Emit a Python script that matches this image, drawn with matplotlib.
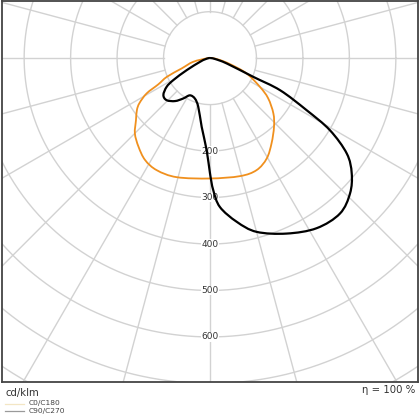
import numpy as np
import matplotlib
matplotlib.use("Agg")
import matplotlib.pyplot as plt
from matplotlib.lines import Line2D
from matplotlib.path import Path
from matplotlib.patches import PathPatch

# ---- data (angle from nadir in degrees, positive = right side; intensity cd/klm)
c0_angles = [-180, -90, -77.7, -70, -66.6, -63.1, -60.9, -57.5, -54.6, -50.0, -44.9, -38.9,
             -32.5, -25.4, -15.6, 0, 14.3, 22.6, 29.5, 35.9, 43.0, 48.9, 55.4, 60.1,
             67.4, 73.3, 80, 90, 180]
c0_values = [0, 5, 37, 65, 101, 125, 156, 180, 193, 208, 229, 245,
             260, 267, 266, 259, 262, 261, 248, 226, 202, 181, 152, 124,
             85, 45, 20, 5, 0]

c90_angles = [-180, -90, -76, -69.7, -62.8, -59.1, -56.5, -51.6, -45.9, -39.1, -33.5,
              -28.4, -20.4, -13.5, -6.9, -2.1, 0, 1.4, 3.8, 9.3, 15.0, 23.6, 32.1,
              39.9, 46.0, 50.9, 55.1, 59.0, 61.7, 65.4, 66.6, 72.4, 80, 90, 180]
c90_values = [0, 3, 12, 23, 56, 92, 112, 128, 130, 119, 104,
              91, 93, 108, 149, 198, 248, 284, 321, 357, 387, 412, 432,
              436, 419, 393, 359, 301, 236, 166, 102, 38, 12, 3, 0]

ring_values = [100, 200, 300, 400, 500, 600, 700, 800, 900]
ring_labels = ["200", "300", "400", "500", "600"]
unit_text = "cd/klm"
eta_text = "η = 100 %"
legend_labels = ["C0/C180", "C90/C270"]

# ---- figure
fig = plt.figure(figsize=(4.2, 4.2), dpi=100)
ax = fig.add_axes([2 / 420, 38 / 420, 416 / 420, 381 / 420])
ax.set_xlim(-447, 447)
ax.set_ylim(-697, 123)
ax.set_aspect("equal", adjustable="box")
ax.set_xticks([])
ax.set_yticks([])
for s in ax.spines.values():
    s.set_color("#444444")
    s.set_linewidth(1.3)

grid_col = "#d2d2d2"
t = np.linspace(0, 2 * np.pi, 721)
for rv in ring_values:
    ax.plot(rv * np.cos(t), rv * np.sin(t), color=grid_col, lw=1.0, zorder=1)
for a in np.arange(0, 360, 15):
    ar = np.deg2rad(a)
    ax.plot([100 * np.sin(ar), 1200 * np.sin(ar)], [-100 * np.cos(ar), -1200 * np.cos(ar)],
            color=grid_col, lw=1.0, zorder=1)

for lab in ring_labels:
    ax.text(0, -float(lab), lab, ha="center", va="center", fontsize=6.5, color="#333333",
            zorder=2, bbox=dict(facecolor="white", edgecolor="none", pad=0.2))


def to_xy(angles, values):
    a = np.deg2rad(np.asarray(angles, float))
    v = np.asarray(values, float)
    return np.column_stack([v * np.sin(a), -v * np.cos(a)])


def smooth_path(pts):
    # Catmull-Rom through the points, drawn as cubic Bezier segments
    n = len(pts)
    verts = [pts[0]]
    codes = [Path.MOVETO]
    for i in range(n - 1):
        p0 = pts[i - 1] if i > 0 else pts[i]
        p1 = pts[i]
        p2 = pts[i + 1]
        p3 = pts[i + 2] if i + 2 < n else pts[i + 1]
        verts += [p1 + (p2 - p0) / 6.0, p2 - (p3 - p1) / 6.0, p2]
        codes += [Path.CURVE4] * 3
    return Path(np.array(verts), codes)


ax.add_patch(PathPatch(smooth_path(to_xy(c0_angles, c0_values)), fill=False,
                       edgecolor="#f0901e", lw=1.3, zorder=3, joinstyle="round"))
ax.add_patch(PathPatch(smooth_path(to_xy(c90_angles, c90_values)), fill=False,
                       edgecolor="black", lw=1.6, zorder=4, joinstyle="round"))

# ---- texts below axes
fig.text(5 / 420, 1 - 393 / 420, unit_text, ha="left", va="center", fontsize=7.3, color="#333333")
fig.text(415 / 420, 1 - 390 / 420, eta_text, ha="right", va="center", fontsize=7.3, color="#333333")

leg_cols = ["#f3e6c4", "#9a9a9a"]
for i, (lab, col) in enumerate(zip(legend_labels, leg_cols)):
    yy = 1 - (403.5 + 7.5 * i) / 420
    fig.add_artist(Line2D([5 / 420, 24 / 420], [yy, yy], color=col, lw=0.9,
                          transform=fig.transFigure))
    fig.text(29 / 420, yy, lab, ha="left", va="center", fontsize=5.4, color="#444444")

fig.savefig("out.png", dpi=100)
